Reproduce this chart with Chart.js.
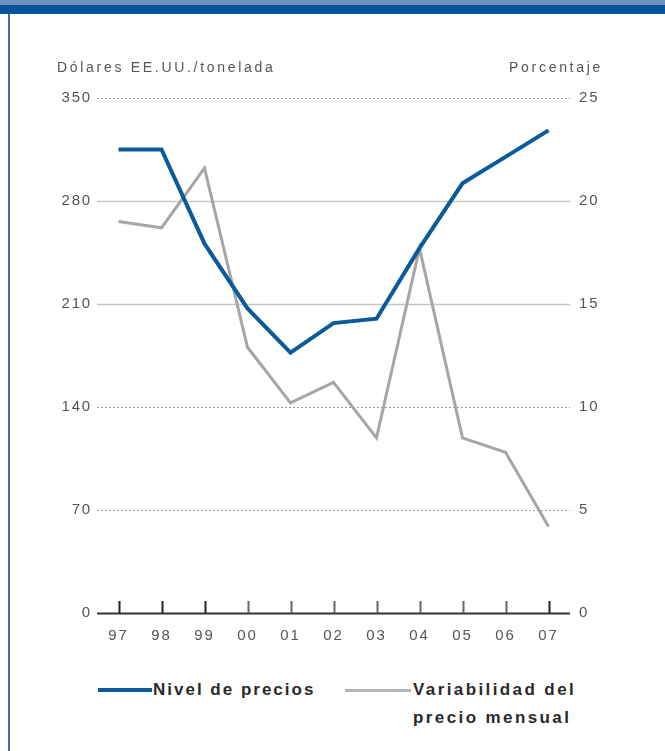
<!DOCTYPE html>
<html>
<head>
<meta charset="utf-8">
<script src="https://cdn.jsdelivr.net/npm/chart.js@4"></script>
<style>
  body{margin:0;width:665px;height:751px;background:#fff;overflow:hidden;position:relative;
    font-family:"Liberation Sans",Arial,sans-serif;}
  #bandTop{position:absolute;left:0;top:0;width:665px;height:5px;background:#6f8fbf;}
  #bandMain{position:absolute;left:0;top:5px;width:665px;height:9px;background:#06539a;}
  #edge{position:absolute;left:8px;top:14px;width:2px;height:737px;background:#3b6fae;}
  #wrap{position:absolute;left:0;top:0;width:665px;height:660px;}
  .axt{position:absolute;top:59px;font-size:14px;color:#555;letter-spacing:2.7px;white-space:nowrap;}
  #ltitle{left:57px;}
  #rtitle{right:62px;}
  .leg{position:absolute;font-size:17px;font-weight:bold;color:#2a2a2a;line-height:28px;letter-spacing:2px;}
  .sw{position:absolute;height:4px;}
</style>
</head>
<body>
<div id="bandTop"></div>
<div id="bandMain"></div>
<div id="edge"></div>
<div id="wrap"><canvas id="chart" width="665" height="660"></canvas></div>
<div class="axt" id="ltitle">Dólares EE.UU./tonelada</div>
<div class="axt" id="rtitle">Porcentaje</div>

<div class="sw" style="left:98px;top:688px;width:54px;background:#0a5a9c;"></div>
<div class="leg" style="left:153px;top:676px;">Nivel de precios</div>
<div class="sw" style="left:345px;top:689px;width:66px;height:3px;background:#b4b4bc;"></div>
<div class="leg" style="left:413px;top:676px;letter-spacing:2.4px;">Variabilidad del<br>precio mensual</div>

<script>
const years = ["97","98","99","00","01","02","03","04","05","06","07"];
const priceLevel = [315, 315, 251, 207, 177, 197, 200, 248, 292, 310, 328];
const monthlyVariability = [19.0, 18.7, 21.6, 12.9, 10.2, 11.2, 8.5, 17.7, 8.5, 7.8, 4.2];
const leftTicks = [0, 70, 140, 210, 280, 350];
const rightTicks = [0, 5, 10, 15, 20, 25];

// gridlines and upward tick marks, drawn from the scales
const gridPlugin = {
  id: "gridPlugin",
  beforeDraw(chart){
    chart.ctx.letterSpacing = "1.8px";
  },
  beforeDatasetsDraw(chart){
    const ctx = chart.ctx;
    const area = chart.chartArea;
    const y = chart.scales.y;
    const x = chart.scales.x;
    ctx.save();
    leftTicks.forEach(function(v){
      const py = Math.round(y.getPixelForValue(v)) + 0.5;
      ctx.beginPath();
      if(v === 0){
        ctx.strokeStyle = "#333";
        ctx.lineWidth = 2;
        ctx.setLineDash([]);
      }else if(v === 280 || v === 210){
        ctx.strokeStyle = "#c6c6c6";
        ctx.lineWidth = 1.5;
        ctx.setLineDash([]);
      }else{
        ctx.strokeStyle = v === 70 ? "#9aa0c0" : "#9a9a9a";
        ctx.lineWidth = 1;
        ctx.setLineDash([2, 2]);
      }
      ctx.moveTo(area.left, py);
      ctx.lineTo(area.right, py);
      ctx.stroke();
    });
    ctx.setLineDash([]);
    const base = y.getPixelForValue(0);
    years.forEach(function(label, i){
      const px = Math.round(x.getPixelForValue(i)) + 0.5;
      const edge = i < 3 || i === years.length - 1;
      ctx.strokeStyle = edge ? "#222" : "#666";
      ctx.lineWidth = 2;
      ctx.beginPath();
      ctx.moveTo(px, base);
      ctx.lineTo(px, base - 12);
      ctx.stroke();
    });
    ctx.restore();
  }
};

const tickFont = { family: "'Liberation Sans', Arial, sans-serif", size: 15 };

new Chart(document.getElementById("chart"), {
  type: "line",
  data: {
    labels: years,
    datasets: [
      {
        label: "Nivel de precios",
        data: priceLevel,
        yAxisID: "y",
        borderColor: "#0a5a9c",
        borderWidth: 4,
        pointRadius: 0,
        tension: 0,
        order: 1
      },
      {
        label: "Variabilidad del precio mensual",
        data: monthlyVariability,
        yAxisID: "y1",
        borderColor: "#a6a6aa",
        borderWidth: 3,
        pointRadius: 0,
        tension: 0,
        order: 2
      }
    ]
  },
  options: {
    responsive: false,
    animation: false,
    maintainAspectRatio: false,
    layout: { padding: { top: 98, left: 0, right: 0, bottom: 0 } },
    plugins: {
      legend: { display: false },
      tooltip: { enabled: false }
    },
    scales: {
      x: {
        offset: true,
        grid: { display: false, drawTicks: false },
        border: { display: false },
        ticks: { color: "#555", font: tickFont, padding: 14, autoSkip: false, maxRotation: 0 },
        afterFit(s){ s.height = 47; }
      },
      y: {
        position: "left",
        min: 0,
        max: 350,
        afterBuildTicks(s){ s.ticks = leftTicks.map(v => ({ value: v })); },
        grid: { display: false, drawTicks: false },
        border: { display: false },
        ticks: { color: "#555", font: tickFont, padding: 5 },
        afterFit(s){ s.width = 97; }
      },
      y1: {
        position: "right",
        min: 0,
        max: 25,
        afterBuildTicks(s){ s.ticks = rightTicks.map(v => ({ value: v })); },
        grid: { display: false, drawTicks: false },
        border: { display: false },
        ticks: { color: "#555", font: tickFont, padding: 9 },
        afterFit(s){ s.width = 95; }
      }
    }
  },
  plugins: [gridPlugin]
});
</script>
</body>
</html>
